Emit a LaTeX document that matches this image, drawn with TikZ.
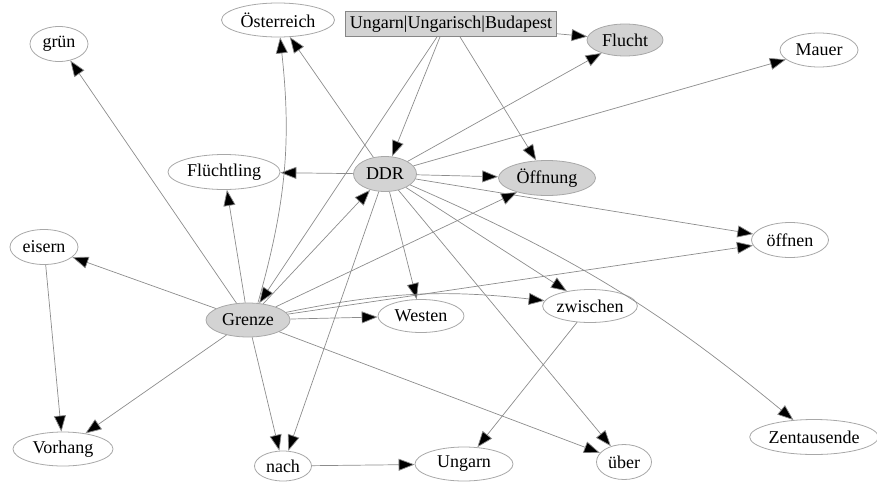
\documentclass[tikz,border=0pt]{standalone}
\usepackage{fontspec}
\setmainfont{Liberation Serif}
\usetikzlibrary{shapes.geometric,arrows.meta}
\definecolor{edgegray}{HTML}{8C8C8C}
\definecolor{nodeline}{HTML}{A8A8A8}
\definecolor{nodefill}{HTML}{D3D3D3}
\tikzset{
  wnode/.style={ellipse,draw=nodeline,line width=0.8pt,fill=white,inner sep=0pt,
    font=\fontsize{18}{20}\selectfont},
  gnode/.style={wnode,fill=nodefill},
  boxnode/.style={rectangle,draw=nodeline!80!black,line width=0.8pt,fill=nodefill,inner sep=0pt,
    font=\fontsize{18}{20}\selectfont},
  edge/.style={draw=edgegray,line width=0.7pt,-{Triangle[length=16pt,width=12pt,fill=black]}},
}
\begin{document}
\begin{tikzpicture}[x=1pt,y=-1pt]
\useasboundingbox (0,0) rectangle (877,482);
% nodes
\node[wnode,minimum width=113pt,minimum height=34pt] (oest) at (278,20) {Österreich};
\node[boxnode,minimum width=211pt,minimum height=25pt] (box) at (451,24) {Ungarn\textbar Ungarisch\textbar Budapest};
\node[gnode,minimum width=76pt,minimum height=32pt] (flucht) at (625,40) {Flucht};
\node[wnode,minimum width=78pt,minimum height=34pt] (mauer) at (819,50) {Mauer};
\node[wnode,minimum width=58pt,minimum height=35pt] (gruen) at (59,44) {grün};
\node[wnode,minimum width=112pt,minimum height=35pt] (fluecht) at (224,172) {Flüchtling};
\node[gnode,minimum width=63pt,minimum height=35pt] (ddr) at (385,174) {DDR};
\node[gnode,minimum width=97pt,minimum height=35pt] (oeffnung) at (547,178) {Öffnung};
\node[wnode,minimum width=77pt,minimum height=35pt] (oeffnen) at (790,240) {öffnen};
\node[wnode,minimum width=68pt,minimum height=35pt] (eisern) at (44,247) {eisern};
\node[gnode,minimum width=84pt,minimum height=34pt] (grenze) at (248,320) {Grenze};
\node[wnode,minimum width=86pt,minimum height=33pt] (westen) at (421,316) {Westen};
\node[wnode,minimum width=94pt,minimum height=33pt] (zwischen) at (590,306) {zwischen};
\node[wnode,minimum width=124pt,minimum height=35pt] (zent) at (814,437) {Zentausende};
\node[wnode,minimum width=100pt,minimum height=34pt] (vorhang) at (63,449) {Vorhang};
\node[wnode,minimum width=57pt,minimum height=30pt] (nach) at (283,466) {nach};
\node[wnode,minimum width=98pt,minimum height=34pt] (ungarn) at (464,464) {Ungarn};
\node[wnode,minimum width=55pt,minimum height=35pt] (ueber) at (624,462) {über};
% edges from box
\draw[edge] (box) -- (flucht);
\draw[edge] (box.south -| 440,0) -- (ddr);
\draw[edge] (box.south -| 437,0) -- (grenze);
\draw[edge] (box.south -| 460,0) -- (oeffnung);
% edges from DDR
\draw[edge] (ddr) -- (oest);
\draw[edge] (ddr) -- (fluecht);
\draw[edge] (ddr) -- (oeffnung);
\draw[edge] (ddr) -- (flucht);
\draw[edge] (ddr) -- (mauer);
\draw[edge] (ddr) -- (oeffnen);
\draw[edge] (ddr) -- (westen);
\draw[edge] (ddr) -- (zwischen);
\draw[edge] (ddr) to[bend left=8] (zent);
\draw[edge] (ddr) -- (ueber);
\draw[edge] (ddr) -- (nach);
% edges from Grenze
\draw[edge] (grenze) -- (gruen);
\draw[edge] (grenze.north) ++(10,0) to[bend right=11] (oest);
\draw[edge] (grenze) -- (fluecht);
\draw[edge] (grenze) -- (ddr);
\draw[edge] (grenze) -- (oeffnung);
\draw[edge] (grenze) -- (oeffnen);
\draw[edge] (grenze) to[bend left=9] (zwischen);
\draw[edge] (grenze) -- (westen);
\draw[edge] (grenze) -- (eisern);
\draw[edge] (grenze) -- (vorhang);
\draw[edge] (grenze) -- (nach);
\draw[edge] (grenze) -- (ueber);
% others
\draw[edge] (eisern) -- (vorhang);
\draw[edge] (zwischen) -- (ungarn);
\draw[edge] (nach) -- (ungarn);
\end{tikzpicture}
\end{document}
